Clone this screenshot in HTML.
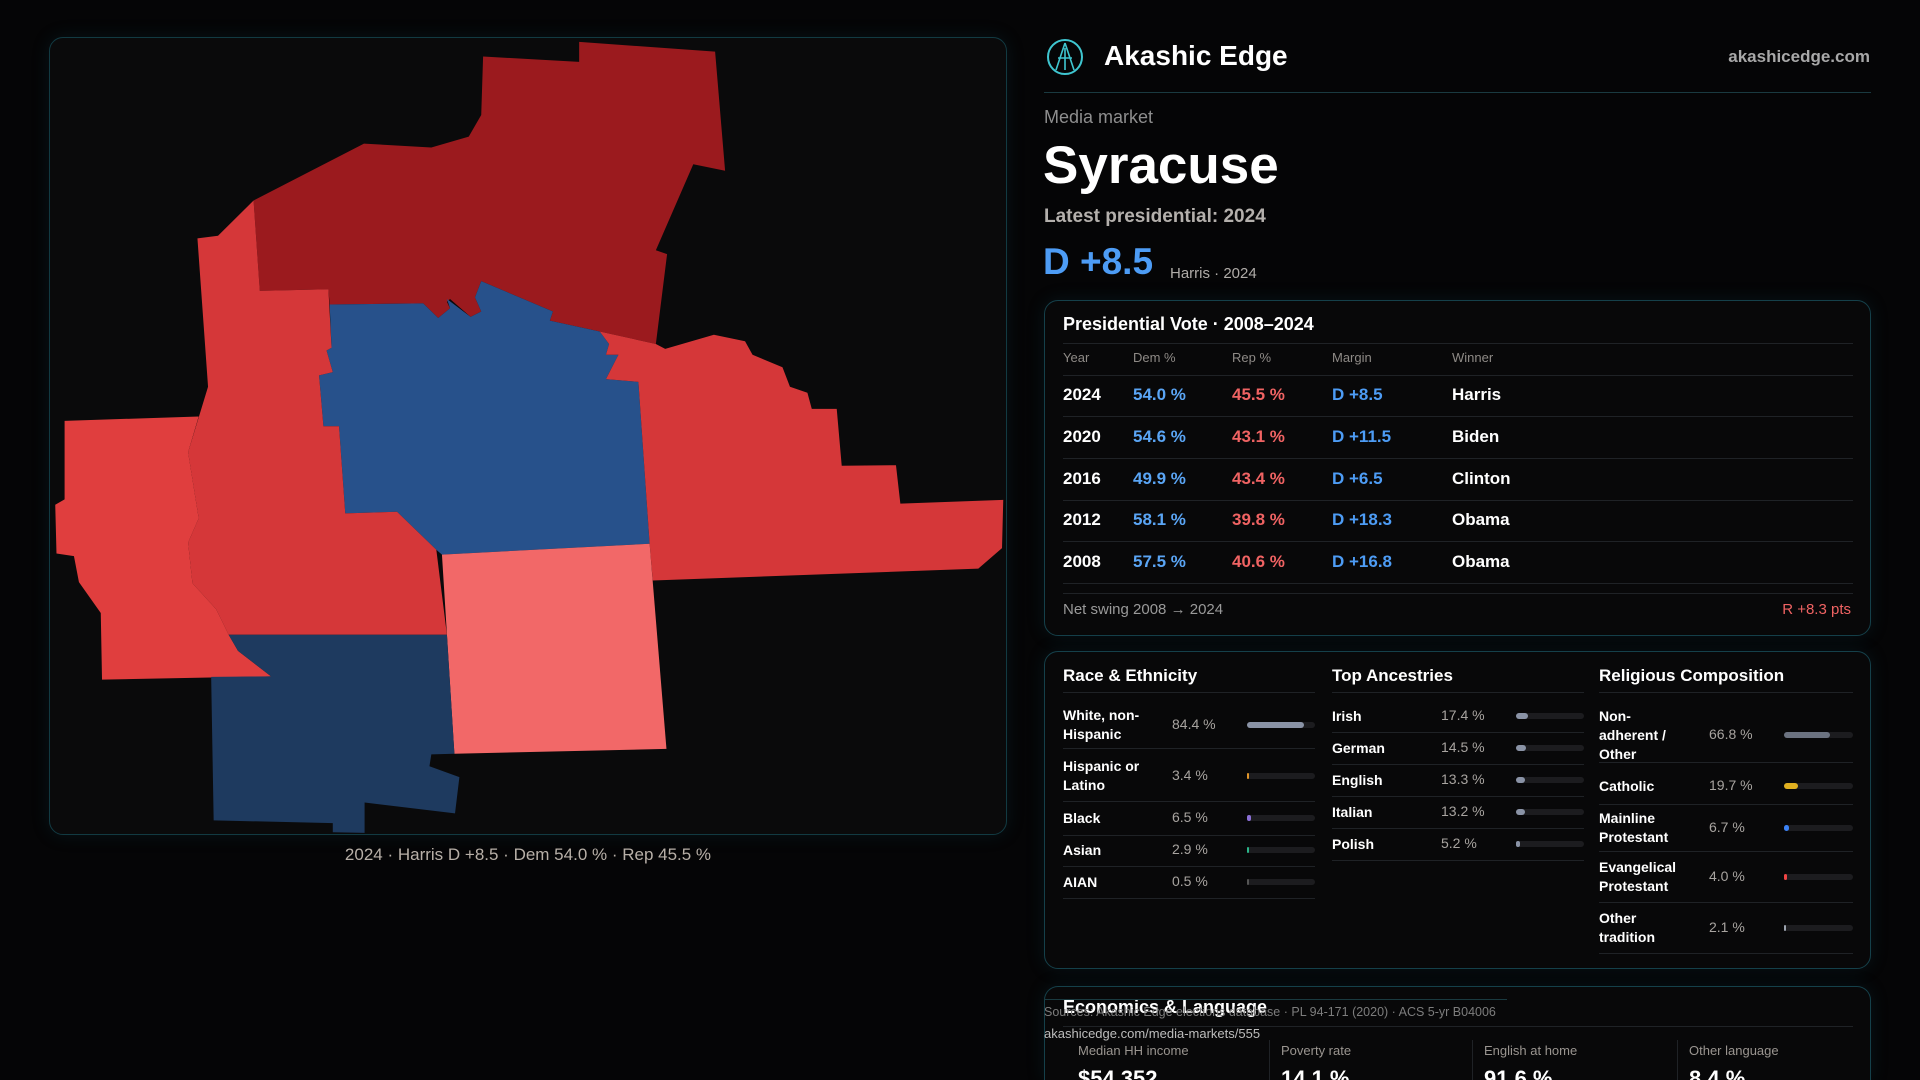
<!DOCTYPE html>
<html style="width:1920px;height:1080px;overflow:hidden"><head><meta charset="utf-8">
<style>
*{box-sizing:border-box;margin:0;padding:0}
body{width:1920px;height:1080px;background:#050506;font-family:"Liberation Sans",sans-serif;color:#fff;overflow:hidden;position:relative}
.abs{position:absolute;white-space:nowrap}
.card{position:absolute;border:1px solid #15404a;border-radius:14px;background:#080809;box-shadow:0 0 18px rgba(20,90,110,0.18)}
.hl{position:absolute;height:1px;background:#1f2226}
.g{color:#9a9a9a}
#clip{position:absolute;left:0;top:0;width:1920px;height:1080px;overflow:hidden}
</style></head><body>
<div id="clip">
<div class="card" style="left:49px;top:37px;width:958px;height:798px;background:#0a0a0b;border-color:#123a42"></div>
<svg style="position:absolute;left:49px;top:37px" width="958" height="798" viewBox="12 11 1536 1474" preserveAspectRatio="none">
<polygon fill="#9b1a1e" points="340,313 517,208 625,215 685,195 705,155 708,47 862,57 862,20 1080,38 1096,258 1045,246 985,405 1003,412 985,578 895,555 815,535 820,518 705,462 695,492 705,518 688,528 655,495 650,500 655,512 636,530 612,503 462,505 460,477 350,480"/>
<polygon fill="#27518b" points="462,505 612,503 636,530 655,512 650,495 688,528 705,518 695,492 705,462 820,518 815,535 895,555 910,578 905,598 925,598 905,643 957,648 975,947 642,967 633,958 570,888 487,891 477,730 452,730 445,636 467,630 457,590 465,585"/>
<polygon fill="#d53739" points="250,383 283,378 340,313 350,480 460,477 465,585 457,590 467,630 445,636 452,730 477,730 487,891 570,888 633,958 650,1115 300,1115 280,1068 242,1020 235,945 252,900 235,778 267,657"/>
<polygon fill="#e03e3e" points="37,720 252,712 235,778 252,900 235,945 242,1020 280,1068 300,1115 315,1145 368,1192 97,1198 95,1075 60,1018 52,970 24,965 22,875 37,865"/>
<polygon fill="#d53739" points="895,555 985,578 1000,587 1078,561 1128,573 1140,598 1188,621 1200,657 1228,668 1235,698 1275,698 1283,803 1370,802 1377,873 1542,866 1540,955 1502,993 980,1015 975,947 957,648 905,643 925,598 905,598 910,578"/>
<polygon fill="#f26868" points="642,967 975,947 1002,1326 662,1335"/>
<polygon fill="#1e3a5f" points="300,1115 650,1115 662,1335 625,1336 622,1358 670,1378 663,1445 518,1425 518,1481 467,1480 467,1463 276,1458 272,1193 368,1192 315,1145"/>
</svg>
<div class="abs" style="left:0;width:1056px;text-align:center;top:845px;font-size:17px;color:#b8b0a8">2024 · Harris D +8.5 · Dem 54.0 % · Rep 45.5 %</div>

<svg class="abs" style="left:1046px;top:38px" width="38" height="38" viewBox="0 0 38 38"><circle cx="19" cy="19" r="17" fill="none" stroke="#3fc6d0" stroke-width="2"/><path d="M19 5 L10 32 M19 5 L28 32 M12 20 L26 20 M19 10 L19 32" stroke="#3fc6d0" stroke-width="1.6" fill="none"/></svg>
<div class="abs" style="left:1104px;top:40px;font-size:28px;font-weight:bold">Akashic Edge</div>
<div class="abs" style="right:50px;top:47px;font-size:17px;color:#a8a8a8;font-weight:bold">akashicedge.com</div>
<div class="hl" style="left:1044px;width:827px;top:92px;background:#1a3a40"></div>
<div class="abs" style="left:1044px;top:107px;font-size:18px;color:#8e8e8e">Media market</div>
<div class="abs" style="left:1043px;top:135px;font-size:53px;font-weight:bold">Syracuse</div>
<div class="abs" style="left:1044px;top:206px;font-size:19px;color:#b4b0ac;font-weight:bold">Latest presidential: 2024</div>
<div class="abs" style="left:1043px;top:241px;font-size:37px;color:#4d9cf5;font-weight:bold">D +8.5</div>
<div class="abs" style="left:1170px;top:265px;font-size:15px;color:#b0aca8">Harris · 2024</div>

<div class="card" style="left:1044px;top:300px;width:827px;height:336px"></div>
<div class="abs" style="left:1063px;top:314px;font-size:18px;font-weight:bold">Presidential Vote · 2008–2024</div>
<div class="hl" style="left:1063px;width:790px;top:343px"></div>
<div id="tbl"></div>
<div class="abs g" style="left:1063px;top:601px;font-size:15px">Net swing 2008 → 2024</div>
<div class="abs" style="right:69px;top:601px;font-size:15px;color:#f06363">R +8.3 pts</div>

<div class="card" style="left:1044px;top:651px;width:827px;height:318px"></div>
<div id="demo"></div>

<div class="card" style="left:1044px;top:986px;width:827px;height:94px;border-bottom:none;border-bottom-left-radius:0;border-bottom-right-radius:0"></div>
<div class="abs" style="left:1063px;top:997px;font-size:18px;font-weight:bold">Economics &amp; Language</div>
<div class="hl" style="left:1063px;width:790px;top:1026px"></div>
<div class="hl" style="left:1044px;width:463px;top:999px;background:#1a3a40"></div>
<div class="abs" style="left:1044px;top:1005px;font-size:12.5px;color:#7d7d7d">Sources: Akashic Edge elections database · PL 94-171 (2020) · ACS 5-yr B04006</div>
<div class="abs" style="left:1044px;top:1026px;font-size:13px;color:#bdbdbd">akashicedge.com/media-markets/555</div>
<div id="econ"></div>
</div>
<script>
const years=['2024','2020','2016','2012','2008'];
const demPct=[54.0,54.6,49.9,58.1,57.5];
const repPct=[45.5,43.1,43.4,39.8,40.6];
const margins=['D +8.5','D +11.5','D +6.5','D +18.3','D +16.8'];
const winners=['Harris','Biden','Clinton','Obama','Obama'];
const raceLabels=['White, non-<br>Hispanic','Hispanic or<br>Latino','Black','Asian','AIAN'];
const raceValues=[84.4,3.4,6.5,2.9,0.5];
const raceColors=['#8a93a6','#e0952a','#8b6fd6','#2bb58a','#555'];
const ancLabels=['Irish','German','English','Italian','Polish'];
const ancValues=[17.4,14.5,13.3,13.2,5.2];
const relLabels=['Non-<br>adherent /<br>Other','Catholic','Mainline<br>Protestant','Evangelical<br>Protestant','Other<br>tradition'];
const relValues=[66.8,19.7,6.7,4.0,2.1];
const relColors=['#6b7280','#e0b020','#3b82f6','#ef4444','#9ca3af'];
const econLabels=['Median HH income','Poverty rate','English at home','Other language'];
const econValues=['$54,352','14.1 %','91.6 %','8.4 %'];

function mk(parent,html,style,name){const d=document.createElement('div');d.className='abs';d.innerHTML=html;d.style.cssText=style;


parent.appendChild(d);return d;}
const tbl=document.getElementById('tbl');
const cols=[1063,1133,1232,1332,1452];
['Year','Dem %','Rep %','Margin','Winner'].forEach((h,i)=>mk(tbl,h,`left:${cols[i]}px;top:350px;font-size:13px;color:#8e8a86`,'column-header'));
mk(tbl,'',`left:1063px;width:790px;height:1px;top:375px;background:#1f2226`,'header-line');
years.forEach((y,i)=>{const cy=395+i*41.8;const t=cy-10;
const rep=margins[i].startsWith('R');
mk(tbl,y,`left:${cols[0]}px;top:${t}px;font-size:17px;font-weight:bold`,'row-year');
mk(tbl,demPct[i].toFixed(1)+' %',`left:${cols[1]}px;top:${t}px;font-size:17px;font-weight:bold;color:#5aa5f5`,'row-dem');
mk(tbl,repPct[i].toFixed(1)+' %',`left:${cols[2]}px;top:${t}px;font-size:17px;font-weight:bold;color:#f06363`,'row-rep');
mk(tbl,margins[i],`left:${cols[3]}px;top:${t}px;font-size:17px;font-weight:bold;color:${rep?'#f06363':'#4d9cf5'}`,'row-margin');
mk(tbl,winners[i],`left:${cols[4]}px;top:${t}px;font-size:17px;font-weight:bold`,'row-winner');
mk(tbl,'',`left:1063px;width:790px;height:1px;top:${cy+21}px;background:#1f2226`,'row-line');});
mk(tbl,'',`left:1063px;width:790px;height:1px;top:593px;background:#1f2226`,'footer-line');

const demo=document.getElementById('demo');
function section(x,title,labels,values,colors,rowCy,rowLines,valX,barX,barW){
 mk(demo,title,`left:${x}px;top:666px;font-size:17px;font-weight:bold`,'section-title');
 mk(demo,'',`left:${x}px;width:${barX+barW-x}px;height:1px;top:692px;background:#1f2226`,'section-line');
 labels.forEach((l,i)=>{const cy=rowCy[i];const lines=l.split('<br>').length;
  mk(demo,l,`left:${x}px;top:${cy-lines*9.5}px;font-size:14px;font-weight:bold;line-height:19px`,'row-label');
  mk(demo,values[i].toFixed(1)+' %',`left:${valX}px;top:${cy-9}px;font-size:14px;color:#a8a4a0`,'row-value');
  mk(demo,'',`left:${barX}px;top:${cy-3}px;width:${barW}px;height:6px;border-radius:3px;background:#1c1c1f`,'bar-track');
  mk(demo,'',`left:${barX}px;top:${cy-3}px;width:${Math.max(2,barW*values[i]/100)}px;height:6px;border-radius:3px;background:${colors[i]}`,'bar-fill');
  mk(demo,'',`left:${x}px;width:${barX+barW-x}px;height:1px;top:${rowLines[i]}px;background:#1f2226`,'row-line');
 });}
section(1063,'Race &amp; Ethnicity',raceLabels,raceValues,raceColors,[725,776,818,850,882],[748,801,835,866,898],1172,1247,68);
section(1332,'Top Ancestries',ancLabels,ancValues,ancLabels.map(()=>'#8a93a6'),[716,748,780,812,844],[732,764,796,828,860],1441,1516,68);
section(1599,'Religious Composition',relLabels,relValues,relColors,[735,786,828,877,928],[762,804,851,902,953],1709,1784,69);

const econ=document.getElementById('econ');
const ex=[1078,1281,1484,1689];
econLabels.forEach((l,i)=>{mk(econ,l,`left:${ex[i]}px;top:1043px;font-size:13px;color:#9a9590`,'stat-label');
mk(econ,econValues[i],`left:${ex[i]}px;top:1066px;font-size:22px;font-weight:bold`,'stat-value');
if(i>0)mk(econ,'',`left:${ex[i]-12}px;top:1040px;width:1px;height:40px;background:#1f2226`,'stat-divider');});
</script>
</body></html>
